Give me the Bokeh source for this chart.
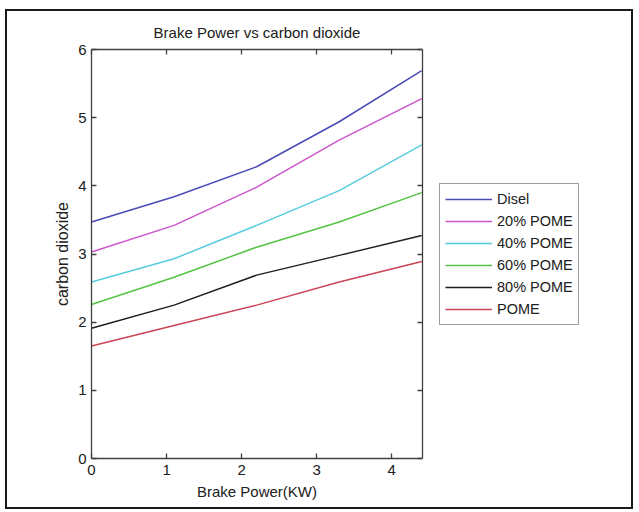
from bokeh.plotting import figure
from bokeh.layouts import row
from bokeh.models import LinearAxis, Legend, LegendItem, FixedTicker, Range1d
from bokeh.embed import file_html
from bokeh.resources import INLINE

# ---- data ----
brake_power = [0, 1.1, 2.2, 3.3, 4.4]
disel = [3.47, 3.84, 4.28, 4.94, 5.69]
pome20 = [3.03, 3.42, 3.98, 4.67, 5.28]
pome40 = [2.59, 2.93, 3.42, 3.93, 4.60]
pome60 = [2.26, 2.66, 3.10, 3.47, 3.90]
pome80 = [1.91, 2.25, 2.69, 2.98, 3.27]
pome100 = [1.65, 1.95, 2.25, 2.59, 2.89]
series_names = ["Disel", "20% POME", "40% POME", "60% POME", "80% POME", "POME"]
series_colors = ["#4b4bb8", "#cc55cc", "#55ccdd", "#55c444", "#1e1e1e", "#cc4455"]
x_ticks = [0, 1, 2, 3, 4]
y_ticks = [0, 1, 2, 3, 4, 5, 6]
all_series = [disel, pome20, pome40, pome60, pome80, pome100]

FONT = "Liberation Sans"
AXIS_COLOR = "#404040"

p = figure(
    frame_width=331, frame_height=409,
    min_border_left=84, min_border_right=10,
    min_border_top=38, min_border_bottom=49,
    x_range=Range1d(0, 4.41), y_range=Range1d(0, 6),
    output_backend="svg", toolbar_location=None,
    title="Brake Power vs carbon dioxide",
)
p.title.align = "center"
p.title.text_font = FONT
p.title.text_font_size = "15px"
p.title.text_font_style = "normal"
p.title.text_color = "#202020"
p.title.standoff = 18

p.xgrid.visible = False
p.ygrid.visible = False
p.outline_line_color = None
p.background_fill_color = "white"
p.border_fill_color = "white"

def style_axis(ax, ticks, show_labels=True):
    ax.ticker = FixedTicker(ticks=ticks)
    ax.axis_line_color = AXIS_COLOR
    ax.axis_line_width = 1.3
    ax.major_tick_line_color = AXIS_COLOR
    ax.major_tick_line_width = 1.3
    ax.major_tick_in = 5
    ax.major_tick_out = 0
    ax.minor_tick_line_color = None
    ax.major_label_text_font = FONT
    ax.major_label_text_color = "#202020"
    ax.axis_label_text_font = FONT
    ax.axis_label_text_font_style = "normal"
    ax.axis_label_text_color = "#202020"
    ax.major_label_text_font_size = "15px"
    if not show_labels:
        ax.major_label_overrides = {t: "" for t in ticks}
        ax.major_label_standoff = 0

style_axis(p.xaxis[0], x_ticks)
style_axis(p.yaxis[0], y_ticks)
p.xaxis[0].axis_label = "Brake Power(KW)"
p.xaxis[0].axis_label_text_font_size = "15px"
p.xaxis[0].major_label_standoff = 6
p.xaxis[0].axis_label_standoff = 5
p.yaxis[0].axis_label = "carbon dioxide"
p.yaxis[0].axis_label_text_font_size = "16px"
p.yaxis[0].major_label_standoff = 5
p.yaxis[0].axis_label_standoff = 4

top_axis = LinearAxis()
style_axis(top_axis, x_ticks, show_labels=False)
p.add_layout(top_axis, "above")
right_axis = LinearAxis()
style_axis(right_axis, y_ticks, show_labels=False)
p.add_layout(right_axis, "right")

for col, ys in zip(series_colors, all_series):
    p.line(brake_power, ys, line_color=col, line_width=1.5)

# legend panel (separate, axis-less figure beside the plot)
lg = figure(
    width=199, height=496, min_border=0,
    x_axis_location=None, y_axis_location=None,
    x_range=Range1d(100, 101), y_range=Range1d(100, 101),
    output_backend="svg", toolbar_location=None,
)
lg.xgrid.visible = False
lg.ygrid.visible = False
lg.outline_line_color = None
lg.background_fill_color = "white"
lg.border_fill_color = "white"
items = []
for name, col, ys in zip(series_names, series_colors, all_series):
    r = lg.line(brake_power, ys, line_color=col, line_width=1.5)
    items.append(LegendItem(label=name, renderers=[r]))

legend = Legend(
    items=items, location=(7, 133),
    label_text_font=FONT, label_text_font_size="14.5px", label_text_color="#202020",
    glyph_width=47, glyph_height=20, label_height=20, label_standoff=5,
    spacing=2, padding=5, margin=0,
    border_line_color=AXIS_COLOR, border_line_width=1.3,
    background_fill_color="white", background_fill_alpha=1.0,
)
lg.add_layout(legend, "center")

layout = row(p, lg)
layout.styles = {"border": "2px solid #1a1a1a", "margin-left": "5px", "margin-top": "9px"}

open("out.html", "w").write(file_html(layout, INLINE))
